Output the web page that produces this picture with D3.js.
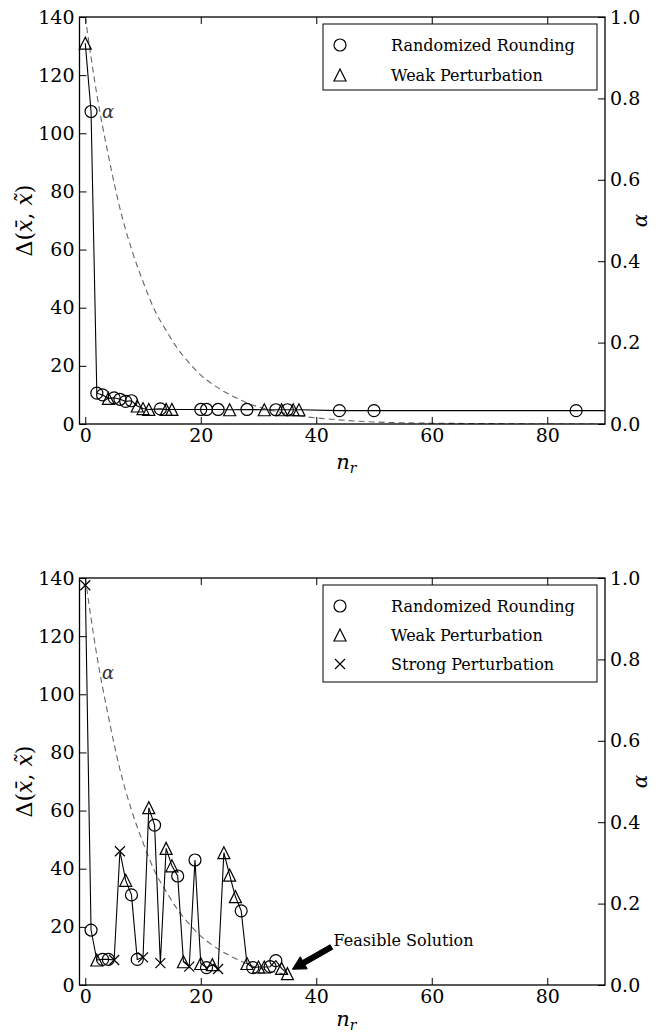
<!DOCTYPE html>
<html>
<head>
<meta charset="utf-8">
<script src="https://cdn.jsdelivr.net/npm/d3@7"></script>
<style>
html,body{margin:0;padding:0;background:#fff;}
svg{display:block;}
svg text{font-family:"DejaVu Serif","Liberation Serif",serif;}
</style>
</head>
<body>
<svg id="chart" width="662" height="1034"></svg>
<script>
// ---------------- DATA ----------------
const xTicks = [0, 20, 40, 60, 80];
const yTicks = [0, 20, 40, 60, 80, 100, 120, 140];
const alphaTicks = [0.0, 0.2, 0.4, 0.6, 0.8, 1.0];

// Top panel: n_r, Delta, method (R = Randomized Rounding, W = Weak Perturbation)
const topX = [0, 1, 2, 3, 4, 5, 6, 7, 8, 9, 10, 11, 13, 14, 15, 20, 21, 23, 25, 28, 31, 33, 34, 35, 36, 37, 44, 50, 85];
const topY = [131, 107.5, 10.6, 10.0, 8.8, 9.0, 8.5, 7.8, 8.0, 6.2, 5.3, 5.0, 5.2, 5.0, 5.0, 5.0, 5.0, 5.0, 4.9, 5.0, 4.9, 4.9, 4.9, 4.9, 4.9, 4.9, 4.6, 4.6, 4.6];
const topM = ["W","R","R","R","W","R","R","R","R","W","W","W","R","W","W","R","R","R","W","R","W","R","W","R","W","W","R","R","R"];
const topLineEnd = [90, 4.6];

// Bottom panel (S = Strong Perturbation)
const botX = [0, 1, 2, 3, 4, 5, 6, 7, 8, 9, 10, 11, 12, 13, 14, 15, 16, 17, 18, 19, 20, 21, 22, 23, 24, 25, 26, 27, 28, 29, 30, 31, 32, 33, 34, 35];
const botY = [137.5, 18.9, 8.6, 8.8, 8.8, 8.6, 46, 36, 31, 8.8, 9.5, 61, 55, 7.5, 47, 41, 37.5, 8, 6.3, 43, 7.4, 6.0, 7.0, 5.5, 45.5, 37.8, 30.4, 25.5, 7.4, 6.0, 6.2, 6.2, 6.3, 8.4, 5.7, 3.9];
const botM = ["S","R","W","R","R","S","S","W","R","R","S","W","R","S","W","W","R","W","S","R","W","R","W","S","W","W","W","R","W","R","W","W","R","R","W","W"];

// alpha (right axis), dashed curve
const alphaTopX = [0, 2, 4, 6, 8, 10, 12, 14, 16, 18, 20, 22, 24, 26, 28, 30, 32, 34, 36, 38, 40, 45, 50, 55, 60, 70, 80, 90];
const alphaTopY = [1.0, 0.81, 0.66, 0.53, 0.43, 0.35, 0.28, 0.23, 0.185, 0.15, 0.12, 0.098, 0.08, 0.065, 0.052, 0.042, 0.034, 0.028, 0.022, 0.018, 0.015, 0.009, 0.005, 0.003, 0.002, 0.001, 0.0, 0.0];
const alphaBotX = [0, 2, 4, 6, 8, 10, 12, 14, 16, 18, 20, 22, 24, 26, 28, 30, 32, 34, 35];
const alphaBotY = [1.0, 0.81, 0.66, 0.53, 0.43, 0.35, 0.28, 0.23, 0.185, 0.15, 0.12, 0.098, 0.08, 0.065, 0.052, 0.042, 0.034, 0.028, 0.025];

const topLegend = [["R","Randomized Rounding"],["W","Weak Perturbation"]];
const botLegend = [["R","Randomized Rounding"],["W","Weak Perturbation"],["S","Strong Perturbation"]];
const annotText = "Feasible Solution";
const annotXY = [35.5, 5.0];
const annotTextXY = [43, 13.5];

// ---------------- DRAW ----------------
const FONT = '"DejaVu Serif","Liberation Serif",serif';
const svg = d3.select("#chart");
const L = 79.5, R = 605;
const x = d3.scaleLinear().domain([-1, 90]).range([L, R]);

function markerPath(m) {
  const s = 6;
  if (m === "W") return `M0,${-s}L${-s},${s}L${s},${s}Z`;
  const c = 5;
  return `M${-c},${-c}L${c},${c}M${-c},${c}L${c},${-c}`;
}
function drawMarker(g, m, px, py) {
  if (m === "R") {
    g.append("circle").attr("cx", px).attr("cy", py).attr("r", 6)
      .attr("fill", "none").attr("stroke", "#000").attr("stroke-width", 1.2);
  } else {
    g.append("path").attr("d", markerPath(m)).attr("transform", `translate(${px},${py})`)
      .attr("fill", "none").attr("stroke", "#000").attr("stroke-width", 1.2);
  }
}

function panel(opts) {
  const {top, bottom, xs, ys, ms, lineEnd, ax, ay, legend, id, alphaLabel, xlabOff} = opts;
  const y = d3.scaleLinear().domain([0, 140]).range([bottom, top]);
  const ya = d3.scaleLinear().domain([0, 1]).range([bottom, top]);
  const g = svg.append("g");

  svg.append("clipPath").attr("id", id).append("rect")
    .attr("x", L).attr("y", top).attr("width", R - L).attr("height", bottom - top);

  const aPts = ax.map((v, i) => [v, ay[i]]);
  g.append("path")
    .attr("clip-path", `url(#${id})`)
    .attr("d", d3.line().x(d => x(d[0])).y(d => ya(d[1])).curve(d3.curveMonotoneX)(aPts))
    .attr("fill", "none").attr("stroke", "#666").attr("stroke-width", 1.1)
    .attr("stroke-dasharray", "6,4");

  const pts = xs.map((v, i) => [v, ys[i]]);
  if (lineEnd) pts.push(lineEnd);
  g.append("path")
    .attr("clip-path", `url(#${id})`)
    .attr("d", d3.line().x(d => x(d[0])).y(d => y(d[1]))(pts))
    .attr("fill", "none").attr("stroke", "#000").attr("stroke-width", 1.1);

  const mg = g.append("g");
  xs.forEach((v, i) => drawMarker(mg, ms[i], x(v), y(ys[i])));

  const tk = 7;
  const fs = "19px";
  const ab = g.append("g").attr("transform", `translate(0,${bottom})`)
    .call(d3.axisBottom(x).tickValues(xTicks).tickSize(-tk).tickPadding(5).tickFormat(d3.format("d")));
  const at = g.append("g").attr("transform", `translate(0,${top})`)
    .call(d3.axisTop(x).tickValues(xTicks).tickSize(-tk).tickFormat(""));
  const al = g.append("g").attr("transform", `translate(${L},0)`)
    .call(d3.axisLeft(y).tickValues(yTicks).tickSize(-tk).tickPadding(5).tickFormat(d3.format("d")));
  const ar = g.append("g").attr("transform", `translate(${R},0)`)
    .call(d3.axisRight(ya).tickValues(alphaTicks).tickSize(-tk).tickPadding(5).tickFormat(d3.format(".1f")));
  [ab, at, al, ar].forEach(a => {
    a.attr("font-family", FONT);
    a.select(".domain").remove();
    a.selectAll("line").attr("stroke", "#000").attr("stroke-width", 1);
    a.selectAll("text").style("font-family", FONT).attr("font-size", fs).attr("fill", "#000");
  });

  g.append("rect").attr("x", L).attr("y", top).attr("width", R - L).attr("height", bottom - top)
    .attr("fill", "none").attr("stroke", "#000").attr("stroke-width", 1.3);

  g.append("text").attr("x", alphaLabel[0]).attr("y", alphaLabel[1])
    .attr("font-style", "italic").attr("font-size", "18px").attr("fill", "#333").text("α");

  const cy = (top + bottom) / 2;
  const yl = g.append("text").attr("transform", `translate(32,${cy}) rotate(-90)`)
    .attr("text-anchor", "middle").attr("font-size", "22px");
  yl.append("tspan").text("Δ(");
  yl.append("tspan").attr("font-style", "italic").text("x\u0304");
  yl.append("tspan").text(", ");
  yl.append("tspan").attr("font-style", "italic").text("x\u0303");
  yl.append("tspan").text(")");

  g.append("text").attr("transform", `translate(647,${cy}) rotate(-90)`)
    .attr("text-anchor", "middle").attr("font-size", "20px").attr("font-style", "italic").text("α");

  const xl = g.append("text").attr("x", (L + R) / 2 + 4).attr("y", bottom + xlabOff)
    .attr("text-anchor", "middle").attr("font-size", "21px").attr("font-style", "italic");
  xl.append("tspan").text("n");
  xl.append("tspan").attr("font-size", "14px").attr("dy", 4).text("r");

  const lx = 323, ly = top + 7, lw = 274;
  const lh = legend.length === 2 ? 66 : 97;
  g.append("rect").attr("x", lx).attr("y", ly).attr("width", lw).attr("height", lh)
    .attr("fill", "#fff").attr("stroke", "#000").attr("stroke-width", 1);
  legend.forEach((d, i) => {
    const ry = ly + 21 + i * (legend.length === 2 ? 30 : 29);
    drawMarker(g, d[0], lx + 17, ry);
    g.append("text").attr("x", lx + 68).attr("y", ry + 6).attr("font-size", "16px").text(d[1]);
  });
  return {y};
}

panel({top: 17, bottom: 424, xs: topX, ys: topY, ms: topM, lineEnd: topLineEnd,
  ax: alphaTopX, ay: alphaTopY, legend: topLegend, id: "clipTop", alphaLabel: [102, 118], xlabOff: 45});
const bp = panel({top: 578, bottom: 985, xs: botX, ys: botY, ms: botM, lineEnd: null,
  ax: alphaBotX, ay: alphaBotY, legend: botLegend, id: "clipBot", alphaLabel: [102, 679], xlabOff: 41});

const yb = bp.y;
const tx = x(annotTextXY[0]), ty = yb(annotTextXY[1]);
const px = x(annotXY[0]), py = yb(annotXY[1]);
svg.append("text").attr("x", tx).attr("y", ty).attr("font-size", "16px").text(annotText);
(function arrow() {
  const dx = px - tx, dy = py - ty;
  const len = Math.hypot(dx, dy);
  const ux = dx / len, uy = dy / len;
  const sx = tx + ux * len * 0.05, sy = ty + uy * len * 0.05;
  const ex = px - ux * len * 0.05, ey = py - uy * len * 0.05;
  const nx = -uy, ny = ux;
  const w = 2.6, hw = 7, hl = 13;
  const bx = ex - ux * hl, by = ey - uy * hl;
  const pts = [
    [sx + nx * w, sy + ny * w], [bx + nx * w, by + ny * w], [bx + nx * hw, by + ny * hw],
    [ex, ey], [bx - nx * hw, by - ny * hw], [bx - nx * w, by - ny * w], [sx - nx * w, sy - ny * w]
  ];
  svg.append("path").attr("d", "M" + pts.map(p => p.join(",")).join("L") + "Z")
    .attr("fill", "#000").attr("stroke", "#000").attr("stroke-width", 1);
})();
</script>
</body>
</html>
